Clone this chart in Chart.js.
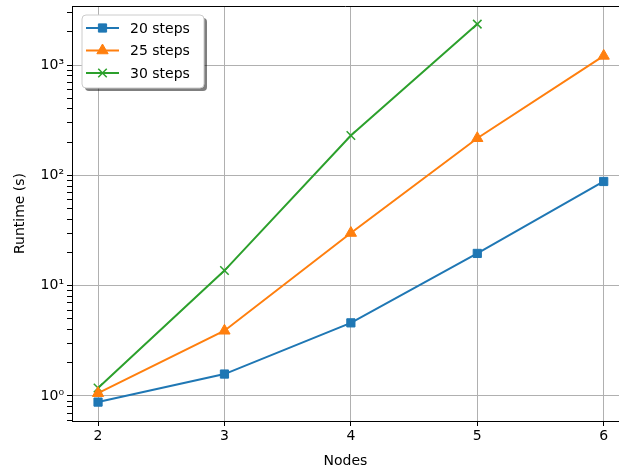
<!DOCTYPE html>
<html>
<head>
<meta charset="utf-8">
<script src="https://cdn.jsdelivr.net/npm/chart.js@4.4.1/dist/chart.umd.min.js"></script>
<style>
  html, body { margin: 0; padding: 0; background: #fff; }
  #wrap { width: 619px; height: 471px; }
</style>
</head>
<body>
<div id="wrap"><canvas id="runtimeChart" width="619" height="471"></canvas></div>
<script>
const nodes = [2, 3, 4, 5, 6];
const steps20 = [0.88, 1.58, 4.6, 19.6, 88];
const steps25 = [1.06, 3.9, 30, 217, 1210];
const steps30 = [1.18, 13.7, 230, 2350];
const seriesNames = ['20 steps', '25 steps', '30 steps'];
const xTicks = [2, 3, 4, 5, 6];
const yMajor = [1, 10, 100, 1000];
const yMajorLabels = ['10\u2070', '10\u00b9', '10\u00b2', '10\u00b3'];

const FONT = 'DejaVu Sans';

function toPoints(vals) {
    return vals.map((v, i) => ({ x: nodes[i], y: v }));
}

// legend drawn inside the axes, matplotlib style with shadow
const boxLegend = {
    id: 'boxLegend',
    afterDraw(chart) {
        const c = chart.ctx;
        const x0 = 82, y0 = 15, w = 122, h = 73, r = 4;
        const rr = (x, y) => {
            c.beginPath();
            c.moveTo(x + r, y);
            c.arcTo(x + w, y, x + w, y + h, r);
            c.arcTo(x + w, y + h, x, y + h, r);
            c.arcTo(x, y + h, x, y, r);
            c.arcTo(x, y, x + w, y, r);
            c.closePath();
        };
        c.save();
        rr(x0 + 3, y0 + 3);
        c.fillStyle = 'rgba(0,0,0,0.5)';
        c.fill();
        rr(x0, y0);
        c.fillStyle = '#fff';
        c.fill();
        c.lineWidth = 1;
        c.strokeStyle = '#cccccc';
        c.stroke();
        chart.data.datasets.forEach((ds, i) => {
            const y = y0 + 13 + i * 22.5;
            c.strokeStyle = ds.borderColor;
            c.lineWidth = 2;
            c.beginPath();
            c.moveTo(86, y);
            c.lineTo(119, y);
            c.stroke();
            c.save();
            c.fillStyle = ds.pointBackgroundColor;
            c.strokeStyle = ds.pointBorderColor;
            c.lineWidth = ds.pointBorderWidth;
            Chart.helpers.drawPoint(c, { pointStyle: ds.pointStyle, radius: ds.pointRadius, borderWidth: ds.pointBorderWidth }, 102.5, y);
            c.restore();
            c.fillStyle = '#000';
            c.font = '14px "' + FONT + '"';
            c.textBaseline = 'middle';
            c.fillText(ds.label, 130, y + 1);
        });
        c.restore();
    }
};

// top spine
const topSpine = {
    id: 'topSpine',
    afterDatasetsDraw(chart) {
        const a = chart.chartArea, c = chart.ctx;
        c.save();
        c.strokeStyle = '#000';
        c.lineWidth = 1;
        c.beginPath();
        c.moveTo(a.left, a.top + 0.5);
        c.lineTo(a.right, a.top + 0.5);
        c.stroke();
        c.restore();
    }
};

function mkSet(label, vals, color, style, radius) {
    return {
        label: label,
        data: toPoints(vals),
        borderColor: color,
        backgroundColor: color,
        pointBackgroundColor: color,
        pointBorderColor: color,
        pointStyle: style,
        pointRadius: radius,
        pointBorderWidth: style === 'crossRot' ? 1.5 : 1,
        borderWidth: 2,
        tension: 0,
        fill: false
    };
}

new Chart(document.getElementById('runtimeChart'), {
    type: 'line',
    data: {
        datasets: [
            mkSet(seriesNames[0], steps20, '#1f77b4', 'rect', 5.8),
            mkSet(seriesNames[1], steps25, '#ff7f0e', 'triangle', 6.5),
            mkSet(seriesNames[2], steps30, '#2ca02c', 'crossRot', 6)
        ]
    },
    plugins: [topSpine, boxLegend],
    options: {
        responsive: false,
        animation: false,
        layout: { autoPadding: false, padding: { left: 0, top: 6, right: 0, bottom: 0 } },
        plugins: { legend: { display: false }, tooltip: { enabled: false } },
        scales: {
            x: {
                type: 'linear',
                min: 1.794,
                max: 6.121,
                afterBuildTicks: (s) => { s.ticks = xTicks.map(v => ({ value: v })); },
                afterFit: (s) => { s.height = 50; s.paddingLeft = 0; s.paddingRight = 0; },
                ticks: { color: '#000', font: { family: FONT, size: 14 }, padding: 2, maxRotation: 0 },
                grid: { color: '#b0b0b0', lineWidth: 1, tickLength: 5, tickColor: '#000' },
                border: { color: '#000', width: 1 },
                title: { display: true, text: 'Nodes', color: '#000', font: { family: FONT, size: 14 }, padding: { top: 5, bottom: 1 } }
            },
            y: {
                type: 'logarithmic',
                min: 0.593,
                max: 3430,
                afterBuildTicks: (s) => {
                    const t = [];
                    for (let e = -1; e <= 3; e++) {
                        for (let m = 1; m <= 9; m++) {
                            const v = m * Math.pow(10, e);
                            if (v >= s.min && v <= s.max) t.push({ value: v, major: m === 1 });
                        }
                    }
                    s.ticks = t;
                },
                afterFit: (s) => { s.width = 72; s.paddingTop = 0; s.paddingBottom = 0; },
                ticks: {
                    autoSkip: false,
                    color: '#000',
                    font: { family: FONT, size: 14 },
                    padding: 3,
                    callback: (v) => {
                        const k = yMajor.indexOf(v);
                        return k >= 0 ? yMajorLabels[k] : '';
                    }
                },
                grid: {
                    color: (ctx) => (ctx.tick && yMajor.indexOf(ctx.tick.value) >= 0 ? '#b0b0b0' : 'rgba(0,0,0,0)'),
                    lineWidth: 1,
                    tickLength: 5,
                    tickColor: '#000'
                },
                border: { color: '#000', width: 1 },
                title: { display: true, text: 'Runtime (s)', color: '#000', font: { family: FONT, size: 14 }, padding: { top: 12, bottom: 2 } }
            }
        }
    }
});
</script>
</body>
</html>
